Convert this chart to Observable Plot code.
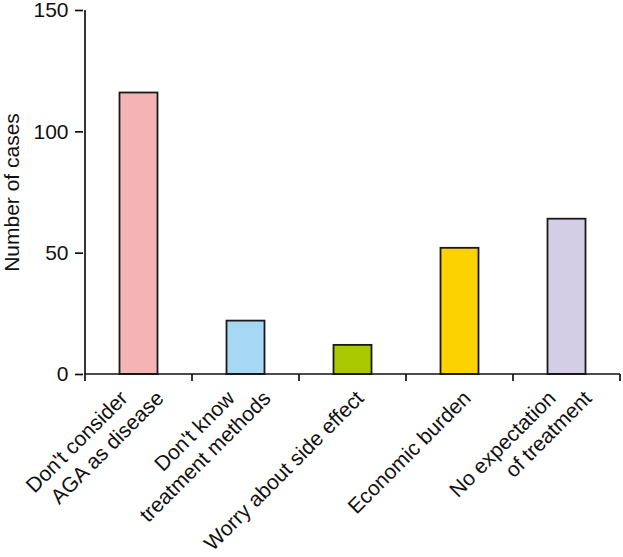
<!DOCTYPE html>
<html>
<head>
<meta charset="utf-8">
<script src="https://cdn.jsdelivr.net/npm/d3@7"></script>
<script src="https://cdn.jsdelivr.net/npm/@observablehq/plot@0.6"></script>
<style>
  html, body { margin: 0; padding: 0; background: #fff; }
  svg { display: block; }
</style>
</head>
<body>
<div id="chart"></div>
<script>
// ---- data ----
const categories = [
  "Don't consider\nAGA as disease",
  "Don't know\ntreatment methods",
  "Worry about side effect",
  "Economic burden",
  "No expectation\nof treatment"
];
const cases = [116, 22, 12, 52, 64];
const barColors = ["#f4b3b5", "#a6d8f4", "#a9c800", "#fcd200", "#d3cde6"];
const yTicks = [0, 50, 100, 150];
const yLabel = "Number of cases";

// ---- build table ----
const data = categories.map((c, i) => ({cat: c, value: cases[i]}));
const labelRows = categories.flatMap((c) => {
  const lines = c.split("\n");
  return lines.map((t, j) => ({
    cat: c, text: t,
    pos: lines.length === 1 ? "single" : (j === 0 ? "first" : "second")
  }));
});
const dxByPos = {first: -10, single: 12, second: 26};

const W = 623, H = 557;
const mL = 83, mR = 1, mT = 10, mB = 183;
const FONT = 21;

// custom mark: axis lines and boundary ticks, drawn through Plot's scales
function axisFrame(index, scales, values, dims) {
  const x = scales.x, y = scales.y;
  const dom = x.domain();
  const bw = typeof x.bandwidth === "function" ? x.bandwidth() : (dims.width - dims.marginLeft - dims.marginRight) / dom.length;
  const bounds = dom.map((d) => x(d)).concat([x(dom[dom.length - 1]) + bw]);
  const y0 = y(0);
  const yTop = y(d3.max(yTicks));
  const g = d3.create("svg:g")
    .attr("stroke", "#111")
    .attr("stroke-width", 1.7)
    .attr("fill", "none");
  g.append("line").attr("x1", bounds[0]).attr("x2", bounds[0]).attr("y1", yTop).attr("y2", y0);
  g.append("line").attr("x1", bounds[0]).attr("x2", bounds[bounds.length - 1]).attr("y1", y0).attr("y2", y0);
  for (const b of bounds) {
    g.append("line").attr("x1", b).attr("x2", b).attr("y1", y0).attr("y2", y0 + 7);
  }
  return g.node();
}

const chart = Plot.plot({
  width: W,
  height: H,
  marginLeft: mL,
  marginRight: mR,
  marginTop: mT,
  marginBottom: mB,
  style: {fontFamily: "'Liberation Sans', Arial, Helvetica, sans-serif", fontSize: FONT + "px", color: "#111", background: "#fff"},
  x: {type: "band", domain: categories, padding: 0, axis: null},
  y: {domain: [0, 150], axis: null},
  color: {domain: categories, range: barColors},
  marks: [
    Plot.barY(data, {x: "cat", y: "value", fill: "cat", stroke: "#1a1a1a", strokeWidth: 1.8, insetLeft: 34.5, insetRight: 34.5}),
    Plot.axisY({ticks: yTicks, tickSize: 8, tickPadding: 7, fontSize: FONT, label: null, stroke: "#111", strokeWidth: 1.7}),
    Plot.text([yLabel], {frameAnchor: "left", rotate: -90, textAnchor: "middle", dx: -65, lineAnchor: "bottom", fontSize: FONT, fill: "#111"}),
    ...["first", "single", "second"].map((p) =>
      Plot.text(labelRows.filter((r) => r.pos === p), {
        x: "cat", frameAnchor: "bottom", text: "text", rotate: -45,
        textAnchor: "end", lineAnchor: "bottom", dx: dxByPos[p], dy: 25,
        fontSize: FONT, fill: "#111"
      })
    ),
    axisFrame
  ]
});
document.getElementById("chart").appendChild(chart);
</script>
</body>
</html>
